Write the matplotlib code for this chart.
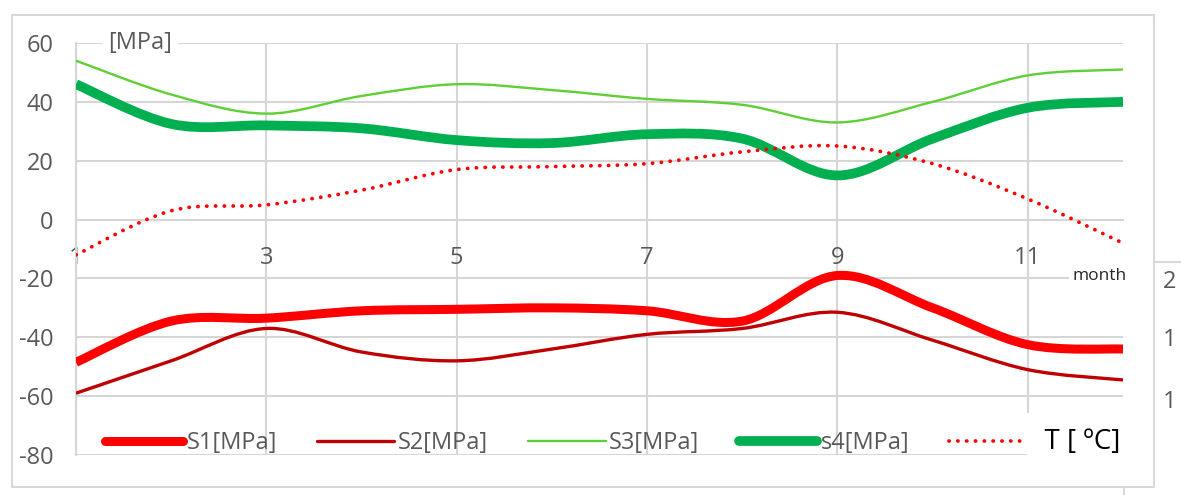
import matplotlib.pyplot as plt
from matplotlib.path import Path
from matplotlib.patches import PathPatch, Rectangle
from matplotlib.lines import Line2D

plt.rcParams['font.family'] = ['Open Sans', 'DejaVu Sans']
plt.rcParams['axes.unicode_minus'] = False

# monthly values
months = [1, 2, 3, 4, 5, 6, 7, 8, 9, 10, 11, 12]
s1 = [-48.5, -34.5, -33.5, -31, -30.5, -30, -31, -34.5, -19, -30, -42.5, -44]
s2 = [-59, -48, -37, -45, -48, -44, -39, -37, -31.5, -41, -51, -54.5]
s3 = [54, 42.5, 36, 42, 46, 44, 41, 39, 33, 40, 49, 51]
s4 = [46, 32.5, 32, 31, 27, 26, 29, 27.5, 15, 27.5, 38, 40]
temp = [-12, 3, 5, 10, 17, 18, 19, 23, 25, 19, 7, -8]

labels = ['S1[MPa]', 'S2[MPa]', 'S3[MPa]', 's4[MPa]', '  T [ ºC]']
xticks = [1, 3, 5, 7, 9, 11]
yticks = [-80, -60, -40, -20, 0, 20, 40, 60]

W, H = 1181, 495
GRID = '#d6d6d6'
TXT = '#595959'


def px(x, y):
    return x / W, 1 - y / H


def smooth_path(x, y):
    # Catmull-Rom style cubic Bezier through every point
    pts = list(zip(x, y))
    verts = [pts[0]]
    codes = [Path.MOVETO]
    for i in range(len(pts) - 1):
        p0 = pts[i - 1] if i > 0 else pts[i]
        p1 = pts[i]
        p2 = pts[i + 1]
        p3 = pts[i + 2] if i + 2 < len(pts) else pts[i + 1]
        c1 = (p1[0] + (p2[0] - p0[0]) / 6, p1[1] + (p2[1] - p0[1]) / 6)
        c2 = (p2[0] - (p3[0] - p1[0]) / 6, p2[1] - (p3[1] - p1[1]) / 6)
        verts += [c1, c2, p2]
        codes += [Path.CURVE4] * 3
    return Path(verts, codes)


fig = plt.figure(figsize=(W / 100, H / 100), dpi=100)
x0, y0 = px(76, 455)
x1, y1 = px(1123, 43)
ax = fig.add_axes([x0, y0, x1 - x0, y1 - y0])

dots = (0, (0.05, 2.3))
styles = [
    dict(color='#ff0000', lw=6.5, ls='-', cap='butt'),
    dict(color='#c00000', lw=2.4, ls='-', cap='butt'),
    dict(color='#5ecf35', lw=1.7, ls='-', cap='butt'),
    dict(color='#00b050', lw=7.0, ls='-', cap='butt'),
    dict(color='#ff0000', lw=2.7, ls=dots, cap='round'),
]
series = [s1, s2, s3, s4, temp]

for vals, st in zip(series, styles):
    patch = PathPatch(smooth_path(months, vals), fill=False, edgecolor=st['color'],
                      lw=st['lw'], linestyle=st['ls'], capstyle=st['cap'], zorder=3)
    ax.add_patch(patch)

ax.set_xlim(1, 12)
ax.set_ylim(-80, 60)
ax.set_xticks(xticks)
ax.set_yticks(yticks)
ax.grid(True, color=GRID, lw=1.5)
ax.set_axisbelow(True)

for side in ['top', 'right']:
    ax.spines[side].set_visible(False)
ax.spines['left'].set_color(GRID)
ax.spines['left'].set_linewidth(1.5)
ax.spines['bottom'].set_position(('data', 0))
ax.spines['bottom'].set_color(GRID)
ax.spines['bottom'].set_linewidth(1.5)

ax.tick_params(axis='y', length=0, pad=16, labelsize=17, labelcolor=TXT)
ax.tick_params(axis='x', length=0, pad=19, labelsize=17, labelcolor=TXT)

# axis captions
ax.text(1.34, 60, '[MPa]', fontsize=17, color=TXT, ha='left', va='center',
        bbox=dict(facecolor='white', edgecolor='none', pad=4), clip_on=False, zorder=4)
ax.text(12.04, -19.3, 'month', fontsize=12.5, color='#262626', ha='right', va='center',
        bbox=dict(facecolor='white', edgecolor='none', pad=3), clip_on=False, zorder=4)

# white patch behind the temperature legend entry
cx0, cy0 = ax.transAxes.inverted().transform(fig.transFigure.transform(px(1027, 470)))
cx1, cy1 = ax.transAxes.inverted().transform(fig.transFigure.transform(px(1125, 413)))
ax.add_patch(Rectangle((cx0, cy0), cx1 - cx0, cy1 - cy0, transform=ax.transAxes,
                       facecolor='white', edgecolor='none', clip_on=False, zorder=2))

handles = [Line2D([], [], color=st['color'], lw=st['lw'], ls=st['ls'],
                  solid_capstyle='round', dash_capstyle='round') for st in styles]
leg = ax.legend(handles, labels, ncol=5, loc='center left',
                bbox_to_anchor=((105 - 76) / 1047, (455 - 442) / 412),
                frameon=False, fontsize=17, handlelength=3.3, handletextpad=0.15,
                columnspacing=1.68, borderpad=0, borderaxespad=0)
leg.set_zorder(5)
for t in leg.get_texts():
    t.set_color(TXT)
leg.get_texts()[4].set_fontsize(20)
leg.get_texts()[4].set_color('black')

# chart frame and the neighbouring panel edge
fx, fy = px(12, 487)
fx1, fy1 = px(1154, 15)
fig.add_artist(Rectangle((fx, fy), fx1 - fx, fy1 - fy, transform=fig.transFigure,
                         facecolor='none', edgecolor='#d9d9d9', lw=1.5))
fig.add_artist(Line2D([px(1154, 0)[0], 1], [px(0, 262)[1]] * 2,
                      transform=fig.transFigure, color='#d9d9d9', lw=1.5))
fig.add_artist(Line2D([px(1124, 0)[0]] * 2, [px(0, 489)[1], 0],
                      transform=fig.transFigure, color='#d9d9d9', lw=1.5))
for yy, s in [(282, '2'), (340, '1'), (402, '1')]:
    fig.text(*px(1163, yy), s, fontsize=17, color=TXT, ha='left', va='center')

fig.savefig('out.png', dpi=100)
